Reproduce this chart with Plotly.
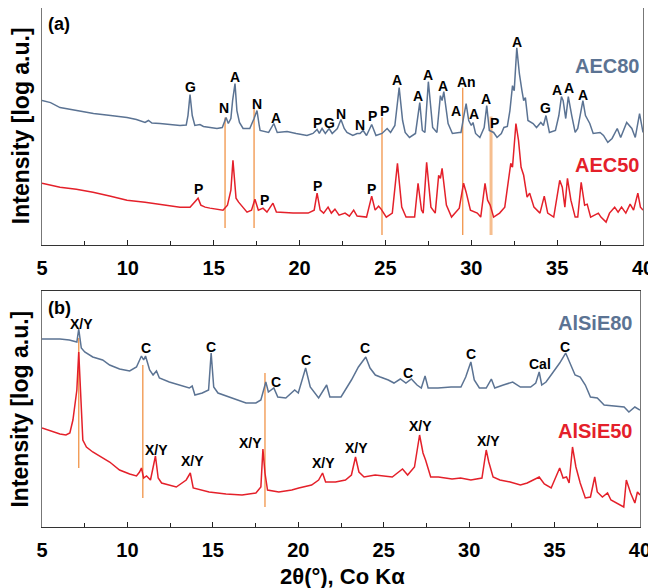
import plotly.graph_objects as go
from plotly.subplots import make_subplots

# ---------------- data (2theta in degrees, intensity in arbitrary offset units) ----------------
aec80_x = [5.0, 5.5, 6.05, 7.0, 8.0, 9.0, 9.95, 10.5, 11.0, 11.2, 11.4, 11.87, 12.5, 13.04, 13.4, 13.5, 13.62, 13.75, 13.9,
           14.2, 14.4, 15.19, 15.5, 15.72, 15.85, 16.0, 16.1, 16.24, 16.35, 16.5, 16.71, 17.1, 17.35, 17.52, 17.65, 17.7,
           18.2, 18.5, 18.7, 19.27, 19.8, 20.43, 20.78, 21.02, 21.15, 21.31, 21.5, 21.72, 21.9, 22.2, 22.41, 22.6, 22.76,
           23.1, 23.35, 23.52, 23.7, 23.9, 24.2, 24.45, 24.8, 25.1, 25.3, 25.55, 25.8, 26.0, 26.15, 26.4, 26.75, 27.0,
           27.15, 27.3, 27.5, 27.75, 28.0, 28.2, 28.3, 28.4, 28.65, 28.9, 29.3, 29.4, 29.55, 29.7, 29.85, 30.0, 30.1,
           30.25, 30.5, 30.75, 30.9, 31.05, 31.3, 31.5, 31.75, 31.9, 32.1, 32.25, 32.4, 32.5, 32.65, 32.8, 32.95, 33.05,
           33.15, 33.3, 33.6, 33.8, 34.05, 34.2, 34.35, 34.55, 34.9, 35.1, 35.25, 35.35, 35.5, 35.65, 35.85, 36.05,
           36.2, 36.5, 36.65, 36.9, 37.1, 37.5, 37.7, 37.95, 38.2, 38.5, 38.7, 39.05, 39.35, 39.55, 39.8, 40.0]
aec80_y = [145, 143, 138, 135, 132, 130, 128, 126, 123, 125, 122.5, 122, 121, 120, 120.5, 130, 151, 130, 120,
           121, 119, 117, 118, 128, 122, 127, 145, 162, 135, 123, 117, 117, 127, 135, 120, 115,
           113, 122, 113, 114, 112, 110, 112, 116, 112, 117, 112, 117, 112, 117, 126, 117, 113,
           110, 112, 112, 115, 110, 121, 110, 112, 117, 113, 120, 158, 125, 113, 108, 112, 143,
           115, 113, 164, 118, 113, 150, 145, 154, 122, 112, 113, 113, 128, 142, 125, 120, 123,
           112, 108, 118, 140, 115, 113, 108, 112, 118, 119, 135, 160, 155, 198, 172, 155, 145,
           148, 125, 122, 118, 123, 120, 130, 113, 115, 130, 149, 145, 127, 149, 130, 113,
           117, 145, 130, 122, 112, 113, 110, 103, 107, 117, 108, 123, 117, 108, 132, 113]

aec50_x = [5.0, 6.05, 7.0, 7.97, 9.0, 9.95, 11.0, 11.87, 13.04, 13.62, 13.91, 14.09, 14.25, 14.5, 14.78, 15.54, 15.8,
           16.0, 16.12, 16.3, 16.45, 16.94, 17.2, 17.4, 17.6, 17.87, 18.1, 18.45, 18.65, 19.62, 20.5, 20.85, 21.02,
           21.2, 21.4, 21.66, 21.85, 22.06, 22.3, 22.65, 22.9, 23.15, 23.35, 23.9, 24.2, 24.4, 24.6, 24.75, 25.05,
           25.4, 25.7, 25.95, 26.2, 26.7, 26.9, 27.1, 27.2, 27.4, 27.65, 27.9, 28.1, 28.2, 28.3, 28.55, 28.85, 29.3,
           29.55, 29.7, 29.95, 30.35, 30.55, 30.8, 30.95, 31.1, 31.3, 31.65, 31.95, 32.2, 32.3, 32.4, 32.6, 32.75,
           32.9, 33.05, 33.25, 33.4, 33.65, 34.0, 34.05, 34.25, 34.45, 34.8, 35.15, 35.3, 35.45, 35.6, 35.8, 36.05,
           36.2, 36.4, 36.6, 36.75, 36.95, 37.4, 37.55, 37.85, 38.05, 38.35, 38.55, 38.75, 39.0, 39.25, 39.45, 39.7,
           39.85, 40.0]
aec50_y = [62, 58, 56, 53, 49, 45, 43, 41, 38, 38, 43, 47, 40, 38, 37, 35, 40,
           55, 85, 47, 43, 33, 35, 46, 35, 37, 33, 42, 33, 32, 32, 35, 52,
           35, 32, 38, 32, 36, 30, 32, 29, 35, 29, 28, 49, 35, 39, 36, 28,
           32, 82, 38, 28, 28, 62, 35, 32, 83, 38, 32, 70, 67, 77, 40, 28, 37,
           62, 53, 35, 32, 28, 62, 45, 40, 28, 32, 38, 70, 82, 78, 122, 105,
           78, 70, 48, 52, 38, 32, 35, 49, 32, 28, 65, 58, 38, 67, 45, 28,
           28, 63, 40, 41, 28, 32, 28, 23, 32, 38, 33, 38, 32, 41, 35, 52,
           38, 35]

alsie80_x = [5.0, 6.05, 6.6, 7.04, 7.15, 7.3, 7.5, 7.97, 8.55, 8.96, 9.54, 10.13, 10.53, 10.82, 10.95, 11.06, 11.3,
             11.5, 11.7, 11.87, 12.45, 13.04, 13.62, 13.79, 13.95, 14.38, 14.75, 14.9, 15.05, 15.3, 16.12, 16.94,
             17.52, 17.81, 18.1, 18.25, 18.57, 18.8, 19.27, 19.79, 20.0, 20.43, 20.7, 21.19, 21.66, 21.85, 22.5,
             22.76, 23.11, 23.52, 23.95, 24.2, 24.51, 24.8, 25.27, 25.6, 25.97, 26.3, 26.62, 26.95, 27.2, 27.42,
             27.6, 28.18, 28.94, 29.52, 29.8, 30.1, 30.3, 30.6, 31.0, 31.3, 31.5, 32.0, 32.55, 33.0, 33.6, 33.9,
             34.1, 34.25, 34.5, 34.88, 35.3, 35.65, 35.9, 36.2, 36.5, 36.8, 37.1, 37.5, 37.9, 38.5, 39.07, 39.35,
             39.7, 40.0]
alsie80_y = [188, 188, 187, 185, 198, 179, 175, 170, 167, 162, 158, 156, 160, 171, 167, 171, 157,
             152, 156, 149, 145, 142, 139, 141, 132, 134, 137, 174, 140, 134, 129, 124,
             124, 127, 145, 135, 139, 130, 129, 137, 134, 159, 140, 129, 142, 130, 130,
             137, 147, 160, 170, 159, 152, 150, 147, 144, 148, 144, 148, 142, 139, 151,
             139, 139, 140, 140, 150, 165, 147, 139, 139, 148, 139, 142, 145, 140, 140, 144,
             155, 142, 145, 154, 164, 174, 164, 152, 150, 142, 130, 129, 122, 121, 120, 115,
             120, 117]

alsie50_x = [5.0, 5.5, 6.05, 6.4, 6.63, 6.81, 7.04, 7.15, 7.27, 7.39, 7.6, 7.97, 8.96, 9.54, 10.13, 10.53, 10.71,
             10.82, 10.95, 11.12, 11.35, 11.64, 11.8, 12.0, 12.86, 13.44, 13.68, 13.85, 14.78, 15.77, 16.71, 17.52,
             17.81, 17.93, 18.05, 18.2, 18.86, 19.62, 20.03, 20.78, 21.19, 21.42, 21.6, 22.18, 22.76, 23.11, 23.35,
             23.55, 23.85, 24.5, 25.5, 26.1, 26.4, 26.8, 27.1, 27.3, 27.45, 27.75, 28.2, 29.0, 29.5, 30.1, 30.75,
             31.0, 31.15, 31.4, 31.8, 32.4, 33.0, 33.4, 34.1, 34.4, 34.8, 35.05, 35.3, 35.5, 35.7, 35.85, 36.05,
             36.25, 36.5, 36.8, 37.1, 37.35, 37.5, 37.8, 38.1, 38.3, 38.8, 39.05, 39.2, 39.45, 39.7, 39.85, 40.0]
alsie50_y = [99, 96, 93, 92, 94, 107, 137, 175, 127, 87, 80, 75, 65, 57, 53, 51, 55,
             59, 49, 51, 47, 71, 49, 44, 40, 47, 54, 39, 35, 33, 32, 34,
             40, 78, 54, 37, 35, 37, 39, 42, 47, 54, 45, 45, 47, 52, 70,
             55, 50, 52, 50, 58, 52, 60, 92, 74, 67, 50, 50, 48, 49, 47, 49,
             77, 65, 50, 47, 45, 42, 44, 50, 43, 39, 50, 59, 49, 50, 44, 80,
             60, 44, 29, 30, 50, 35, 30, 34, 27, 22, 20, 47, 34, 24, 35, 32]

# peak labels
a_lab_text = ["G", "A", "N", "N", "A", "P", "G", "N", "N", "P", "P", "A", "A", "A", "A", "An", "A", "A", "A", "P",
              "A", "G", "A", "A", "A"]
a_lab_x = [13.62, 16.24, 15.6, 17.52, 18.63, 21.02, 21.72, 22.41, 23.52, 24.22, 24.92, 25.68, 26.9, 27.48, 28.35,
           29.75, 29.11, 30.16, 30.86, 31.33, 32.67, 34.35, 35.0, 35.69, 36.51]
a_lab_y = [159, 169, 138, 142, 128, 123, 123, 132, 121, 130, 135, 166, 150, 171, 160, 164, 135, 132, 147, 123,
           204, 138, 156, 158, 151]
a_red_lab_x = [14.14, 17.93, 21.02, 24.16]
a_red_lab_y = [56, 45, 59, 56]

b_lab_text = ["X/Y", "C", "C", "C", "C", "C", "C", "C", "Cal", "C"]
b_lab_x = [7.33, 11.06, 14.9, 18.69, 20.43, 23.93, 26.43, 30.1, 34.12, 35.63]
b_lab_y = [203, 179, 180, 145, 167, 179, 154, 173, 163, 180]
b_red_lab_x = [11.7, 13.79, 17.23, 21.48, 23.4, 27.13, 31.15]
b_red_lab_y = [77, 66, 84, 64, 79, 101, 86]

# reference lines (position, top, bottom)
a_ref_x = [15.66, 17.35, 24.8, 29.5, 31.15]
a_ref_top = [128, 137, 128, 158, 129]
a_ref_bot = [17, 17, 10, 10, 10]
b_ref_x = [7.15, 10.9, 18.05]
b_ref_top = [189, 162, 154]
b_ref_bot = [59, 29, 20]

BLUE = "#5B7393"
RED = "#E4202A"
ORANGE = "#F29B55"
FONT = "Arial, Liberation Sans, sans-serif"

fig = make_subplots(rows=2, cols=1)

fig.add_trace(go.Scatter(x=aec80_x, y=aec80_y, mode="lines", line=dict(color=BLUE, width=1.5)), row=1, col=1)
fig.add_trace(go.Scatter(x=aec50_x, y=aec50_y, mode="lines", line=dict(color=RED, width=1.5)), row=1, col=1)
fig.add_trace(go.Scatter(x=alsie80_x, y=alsie80_y, mode="lines", line=dict(color=BLUE, width=1.5)), row=2, col=1)
fig.add_trace(go.Scatter(x=alsie50_x, y=alsie50_y, mode="lines", line=dict(color=RED, width=1.5)), row=2, col=1)

shapes = []
for i, (x0, t, b) in enumerate(zip(a_ref_x, a_ref_top, a_ref_bot)):
    w = 3 if i == 4 else 1.4
    c = "#F6BE8E" if i == 4 else ORANGE
    shapes.append(dict(type="line", xref="x", yref="y", x0=x0, x1=x0, y0=b, y1=t,
                       line=dict(color=c, width=w), layer="below"))
for x0, t, b in zip(b_ref_x, b_ref_top, b_ref_bot):
    shapes.append(dict(type="line", xref="x2", yref="y2", x0=x0, x1=x0, y0=b, y1=t,
                       line=dict(color=ORANGE, width=1.4), layer="below"))

ann = []
lab_font = dict(family=FONT, size=14, color="black", weight="bold")
for t, x, y in zip(a_lab_text, a_lab_x, a_lab_y):
    ann.append(dict(text=t, x=x, y=y, xref="x", yref="y", showarrow=False, font=lab_font))
for x, y in zip(a_red_lab_x, a_red_lab_y):
    ann.append(dict(text="P", x=x, y=y, xref="x", yref="y", showarrow=False, font=lab_font))
for t, x, y in zip(b_lab_text, b_lab_x, b_lab_y):
    ann.append(dict(text=t, x=x, y=y, xref="x2", yref="y2", showarrow=False, font=lab_font))
for x, y in zip(b_red_lab_x, b_red_lab_y):
    ann.append(dict(text="X/Y", x=x, y=y, xref="x2", yref="y2", showarrow=False, font=lab_font))

big = dict(family=FONT, size=20, weight="bold")
ann += [
    dict(text="AEC80", x=37.9, y=180, xref="x", yref="y", showarrow=False, font=dict(big, color=BLUE)),
    dict(text="AEC50", x=37.9, y=80, xref="x", yref="y", showarrow=False, font=dict(big, color=RED)),
    dict(text="AlSiE80", x=37.38, y=204, xref="x2", yref="y2", showarrow=False, font=dict(big, color=BLUE)),
    dict(text="AlSiE50", x=37.38, y=96, xref="x2", yref="y2", showarrow=False, font=dict(big, color=RED)),
    dict(text="(a)", x=0.007, y=0.969, xref="paper", yref="paper", xanchor="left", yanchor="middle",
         showarrow=False, font=dict(big, size=18, color="black")),
    dict(text="(b)", x=0.007, y=0.422, xref="paper", yref="paper", xanchor="left", yanchor="middle",
         showarrow=False, font=dict(big, size=18, color="black")),
    dict(text="Intensity [log a.u.]", x=-0.036, y=0.773, xref="paper", yref="paper", textangle=-90,
         xanchor="center", yanchor="middle", showarrow=False, font=dict(big, size=23, color="black")),
    dict(text="Intensity [log a.u.]", x=-0.036, y=0.227, xref="paper", yref="paper", textangle=-90,
         xanchor="center", yanchor="middle", showarrow=False, font=dict(big, size=23, color="black")),
    dict(text="2θ(°), Co Kα", x=0.5, y=-0.0955, xref="paper", yref="paper", yanchor="middle",
         showarrow=False, font=dict(big, size=22, color="black")),
]

xcommon = dict(range=[5, 40], tickvals=[5, 10, 15, 20, 25, 30, 35, 40], ticks="inside", ticklen=5,
               tickcolor="#222", tickwidth=1.2,
               minor=dict(tickvals=[7.5, 12.5, 17.5, 22.5, 27.5, 32.5, 37.5], ticks="inside", ticklen=4,
                          tickcolor="#222", tickwidth=1.2),
               showline=True, linecolor="#333", linewidth=1.3, mirror=True, showgrid=False, zeroline=False,
               tickfont=dict(family=FONT, size=20, color="black", weight="bold"), ticklabelstandoff=5)
ycommon = dict(showticklabels=False, ticks="", showgrid=False, zeroline=False, showline=True,
               linecolor="#777", linewidth=1.3, mirror=True)

# The page body has an 8 px default margin, so the figure is sized to fit the window.
fig.update_layout(
    width=648, height=580, margin=dict(l=34, r=13, t=0, b=61, autoexpand=False),
    paper_bgcolor="white", plot_bgcolor="white", showlegend=False,
    shapes=shapes, annotations=ann,
    xaxis=dict(xcommon, domain=[0, 1]),
    xaxis2=dict(xcommon, domain=[0, 0.995]),
    yaxis=dict(ycommon, range=[0, 238], domain=[0.5434, 1]),
    yaxis2=dict(ycommon, range=[0, 236], domain=[0, 0.4547]),
)

fig.write_html("out.html")
